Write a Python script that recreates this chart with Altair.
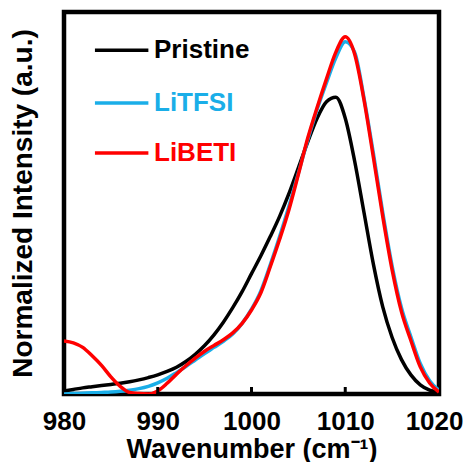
import altair as alt
import pandas as pd

wavenumber = list(range(980, 1021))
pristine = [0.008, 0.012, 0.016, 0.019, 0.022, 0.025, 0.028, 0.032, 0.037, 0.043,
            0.050, 0.059, 0.070, 0.085, 0.104, 0.127, 0.155, 0.188, 0.226, 0.268,
            0.315, 0.362, 0.412, 0.465, 0.525, 0.592, 0.660, 0.722, 0.765, 0.777,
            0.722, 0.610, 0.475, 0.340, 0.228, 0.148, 0.090, 0.050, 0.024, 0.010, 0.004]
litfsi = [0.000, 0.001, 0.002, 0.003, 0.004, 0.005, 0.007, 0.010, 0.014, 0.020,
          0.029, 0.041, 0.056, 0.072, 0.089, 0.106, 0.122, 0.138, 0.157, 0.185,
          0.222, 0.270, 0.338, 0.412, 0.492, 0.578, 0.665, 0.745, 0.815, 0.880,
          0.922, 0.895, 0.775, 0.630, 0.475, 0.335, 0.225, 0.150, 0.080, 0.035, 0.010]
libeti = [0.139, 0.134, 0.122, 0.100, 0.075, 0.045, 0.020, 0.004, 0.001, 0.000,
          0.008, 0.028, 0.052, 0.074, 0.094, 0.112, 0.127, 0.142, 0.160, 0.185,
          0.220, 0.265, 0.333, 0.405, 0.483, 0.575, 0.670, 0.750, 0.825, 0.895,
          0.935, 0.890, 0.770, 0.620, 0.465, 0.325, 0.215, 0.140, 0.071, 0.029, 0.005]

series_names = ["Pristine", "LiTFSI", "LiBETI"]
series_colors = ["#000000", "#1aaee8", "#ff0000"]
x_ticks = [980, 990, 1000, 1010, 1020]

rows = []
for name, vals in zip(series_names, [pristine, litfsi, libeti]):
    for w, v in zip(wavenumber, vals):
        rows.append({"wn": w, "val": v, "series": name})
df = pd.DataFrame(rows)

# legend entries (positions in data units)
legend_x0 = [983.3, 983.3, 983.3]
legend_x1 = [989.0, 989.0, 989.0]
legend_tx = [989.6, 989.6, 989.6]
legend_y = [0.900, 0.762, 0.631]
leg = pd.DataFrame({"series": series_names, "x0": legend_x0, "x1": legend_x1,
                    "tx": legend_tx, "y": legend_y})

FONT = "Liberation Sans"
W, H = 375, 382

xscale = alt.Scale(domain=[980, 1020], nice=False, zero=False)
yscale = alt.Scale(domain=[0, 1], nice=False, zero=False)
cscale = alt.Scale(domain=series_names, range=series_colors)

last_tick = "datum.value >= 1020"
xaxis = alt.Axis(values=x_ticks, title="Wavenumber (cm⁻¹)", labelFontSize=26,
                 labelFontWeight="bold", labelFont=FONT, titleFont=FONT,
                 titleFontSize=27, titleFontWeight="bold", ticks=False, domain=False,
                 grid=False, labelPadding=14, titlePadding=2, labelFlush=False,
                 labelAlign={"condition": {"test": last_tick, "value": "right"},
                             "value": "center"},
                 labelOffset={"condition": {"test": last_tick, "value": 24},
                              "value": 0},
                 labelOverlap=False, labelColor="black",
                 titleColor="black", format="d")
yaxis = alt.Axis(labels=False, ticks=False, domain=False, grid=False,
                 title="Normalized Intensity (a.u.)", titleFont=FONT,
                 titleFontSize=28, titleFontWeight="bold", titlePadding=27,
                 titleColor="black")

layers = []
for name in series_names:
    base = alt.Chart(df).transform_filter(alt.datum.series == name).mark_line(
        strokeWidth=3.5, interpolate="monotone", clip=True
    ).encode(
        x=alt.X("wn:Q", scale=xscale, axis=xaxis),
        y=alt.Y("val:Q", scale=yscale, axis=yaxis),
        color=alt.Color("series:N", scale=cscale, legend=None),
    )
    layers.append(base)

ticks_df = pd.DataFrame({"t": x_ticks[1:-1]})
tick_marks = alt.Chart(ticks_df).mark_rule(color="black", strokeWidth=3).encode(
    x=alt.X("t:Q", scale=xscale, axis=xaxis),
    y=alt.value(H),
    y2=alt.value(H - 7),
)

leg_lines = alt.Chart(leg).mark_rule(strokeWidth=3.5).encode(
    x=alt.X("x0:Q", scale=xscale, axis=xaxis),
    x2="x1:Q",
    y=alt.Y("y:Q", scale=yscale, axis=yaxis),
    color=alt.Color("series:N", scale=cscale, legend=None),
)
leg_text = alt.Chart(leg).mark_text(align="left", baseline="middle", fontSize=26,
                                    fontWeight="bold", font=FONT).encode(
    x=alt.X("tx:Q", scale=xscale, axis=xaxis),
    y=alt.Y("y:Q", scale=yscale, axis=yaxis),
    text="series:N",
    color=alt.Color("series:N", scale=cscale, legend=None),
)

chart = alt.layer(*layers, tick_marks, leg_lines, leg_text).properties(
    width=W, height=H,
    autosize=alt.AutoSizeParams(type="none"),
    padding={"left": 56, "top": 4, "right": 24, "bottom": 68},
    background="white",
).configure_view(stroke="black", strokeWidth=4.5).configure_axisX(
    labelFlush=False, labelBound=False
)

chart.save("out.html", embed_options={"renderer": "svg", "actions": False})
